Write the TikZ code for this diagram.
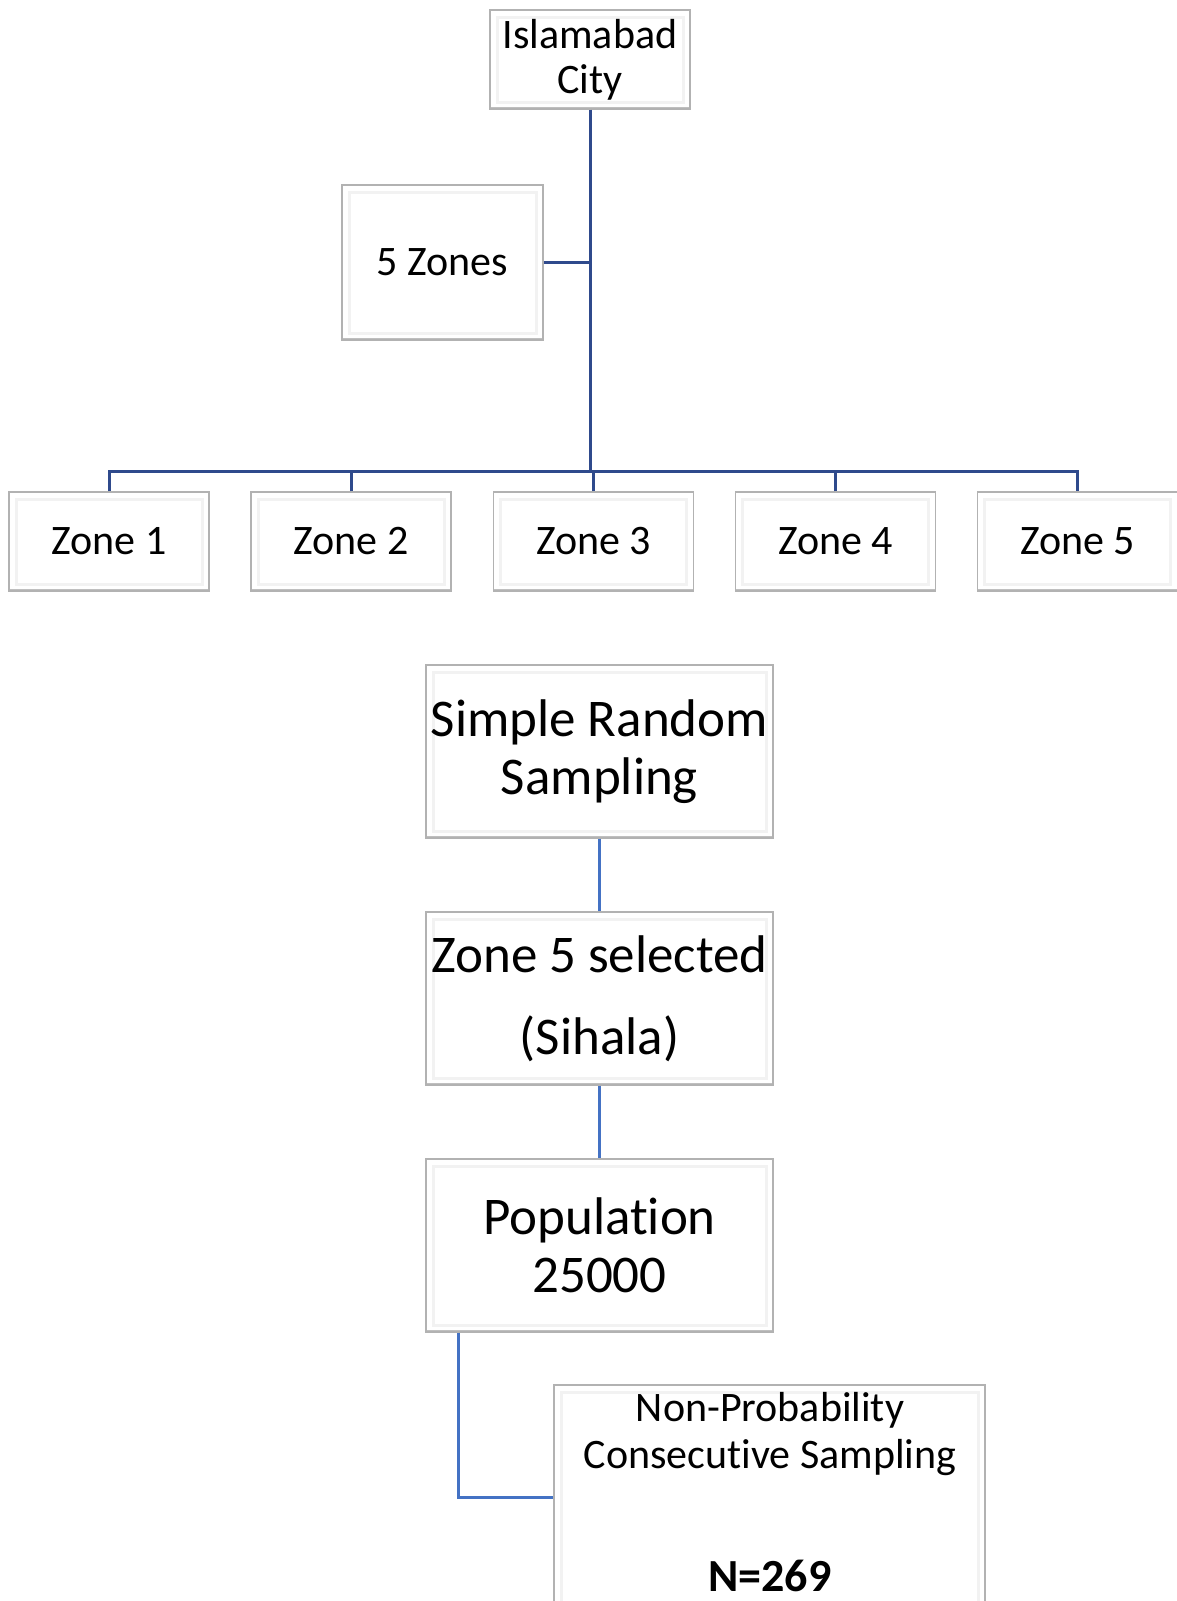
\documentclass[tikz,border=0pt]{standalone}
\usepackage{fontspec}
\setmainfont{Carlito}[Ligatures={NoCommon}]
\definecolor{navyline}{RGB}{47,74,140}
\definecolor{blueline}{RGB}{68,114,196}
\tikzset{
  box/.style={draw=gray!60, line width=1.4pt, fill=white, inner sep=0pt, align=center,
    path picture={
      \draw[gray!10, line width=3pt]
        ([shift={(7pt,-7pt)}]path picture bounding box.north west) rectangle
        ([shift={(-7pt,7pt)}]path picture bounding box.south east);
      \draw[gray!50, line width=4pt]
        (path picture bounding box.south west) -- (path picture bounding box.south east);
    }},
  topbox/.style={box, minimum width=200pt, minimum height=99pt, font=\fontsize{42}{45}\selectfont},
  bigbox/.style={box, minimum width=347pt, minimum height=173pt, font=\fontsize{53}{58}\selectfont},
  topline/.style={draw=navyline, line width=3pt},
  lowline/.style={draw=blueline, line width=3pt},
  plaintext/.style={inner sep=0pt, anchor=base, font=\fontsize{42}{47}\selectfont}
}
\begin{document}
\begin{tikzpicture}[x=1pt, y=-1pt]
\useasboundingbox (0,0) rectangle (1177,1601);
% top level
\node[topbox] (isl) at (590,59.5) {Islamabad\\City};
\node[topbox, minimum width=201pt, minimum height=155pt] (zones) at (442.5,262.5) {5 Zones};
\coordinate (hub) at (590,471);
\node[topbox] (z1) at (109,541.5) {Zone 1};
\node[topbox] (z2) at (351,541.5) {Zone 2};
\node[topbox] (z3) at (593.5,541.5) {Zone 3};
\node[topbox] (z4) at (835.5,541.5) {Zone 4};
\node[topbox] (z5) at (1077.5,541.5) {Zone 5};
% connectors top
\draw[topline] (isl.south -| hub) -- (hub);
\draw[topline] (zones.east) -- (zones.east -| hub);
\draw[topline] (z1.north) -- (z1.north |- hub) -- (z5.north |- hub) -- (z5.north);
\draw[topline] (z2.north) -- (z2.north |- hub);
\draw[topline] (z3.north) -- (z3.north |- hub);
\draw[topline] (z4.north) -- (z4.north |- hub);
% lower chain
\node[bigbox] (srs) at (599.5,751.5) {Simple Random\\Sampling};
\node[bigbox, font=\fontsize{53}{82}\selectfont] (z5s) at (599.5,998.5) {Zone 5 selected\\(Sihala)};
\node[bigbox] (pop) at (599.5,1245.5) {Population\\25000};
\node[box, minimum width=431pt, minimum height=224pt] (np) at (769.5,1497) {};
\node[plaintext] (np1) at (770,1421) {Non-Probability};
\node[plaintext] (np2) at (770,1468) {Consecutive Sampling};
\node[plaintext, font=\fontsize{46}{50}\selectfont\bfseries] (npn) at (770,1591) {N=269};
\coordinate (bend) at (458,1497);
\draw[lowline] (srs) -- (z5s);
\draw[lowline] (z5s) -- (pop);
\draw[lowline] (pop.south -| bend) -- (bend) -- (np.west);
\end{tikzpicture}
\end{document}
